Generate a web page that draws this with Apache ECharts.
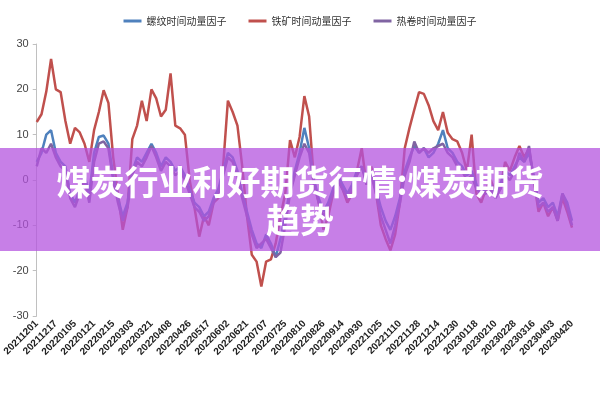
<!DOCTYPE html>
<html>
<head>
<meta charset="utf-8">
<script src="https://cdn.jsdelivr.net/npm/echarts@6/dist/echarts.min.js"></script>
<style>html,body{margin:0;padding:0;background:#fff}#c{width:600px;height:400px}</style>
</head>
<body>
<div id="c"></div>
<script>
// Tick labels on the x axis (every 4th category)
const tickLabels = ['20211201','20211217','20220105','20220121','20220215','20220303','20220321','20220408','20220426','20220517','20220602','20220621','20220707','20220725','20220810','20220826','20220914','20220930','20221025','20221110','20221128','20221214','20221230','20230118','20230210','20230228','20230316','20230403','20230420'];
const seriesNames = ['螺纹时间动量因子','铁矿时间动量因子','热卷时间动量因子'];
const rebar = [4,6,10,11,6,4,3,-3,-5,-2,1,-3,6,9.5,9.8,8,1,-4,-8,-5,2,5,4,6,8,6,3,5,4,2,3,1,-2,-5,-6,-8,-7,-4,-2,2,6,5,2,-3,-7,-11,-14,-15,-12,-14,-17,-13,-8,-2,2,6,11.5,7,0,-4,-7,-5,-2,1,-1,-3,-1,2,3,0,2,-2,-6,-9,-11,-8,-4,2,5,7.5,6,7,5,6,8,11,7,6,4,3,1,2,-1,-3,-2,-1,-3,-1,2,1,3,5,4,6,1,-5,-4,-6,-5,-8,-3,-5,-9];
const ironOre = [12.8,14.5,19.5,26.7,20,19.4,13,8,11.5,10.5,8,4,11,15,19.8,17,5,-3,-11,-6,9,12,17.5,13,20,18,14,15.5,23.5,12,11.4,10,0,-6,-12.5,-8,-10,-5,-4,3,17.5,15,12,3,-8,-16.5,-18,-23.5,-18,-17.5,-14,-8,-3,8.8,5,9.5,18.5,14,0,-5,-11,-8,-3,0,-2,-5,-3,2,7,-1,3,-3,-10,-13,-15.5,-12,-5,7,11.5,15.5,19.4,19,16.5,13,11,15,10.4,9,8.5,6,2,10,-3,-5,-2,0,-3,-2,4,2,5,7.5,5,7,0,-7,-5,-8,-6,-9,-4,-7,-10.5];
const hotCoil = [3,7,6,8,5,3,2,-4,-6,-3,0,-5,4,8,8.5,7,0,-5,-9,-6,1,4,3,5,7.5,5,2,4,3,1,2,0,-3,-6,-7,-9,-8,-5,-3,1,5,4,1,-4,-8,-12,-15,-14,-13,-15,-17,-16,-10,-3,1,5,8,6,-1,-5,-8,-6,-3,0,-2,-4,-2,1,3,-1,1,-3,-8,-11,-14,-10,-5,1,4,8.5,6,7,6,7,7.5,8,6,5,3,2,0,1,-2,-3,-3,-2,-4,-2,1,0,2,6,4,7.5,0,-6,-5,-7,-6,-9,-3,-6,-10];
const yTicks = {min:-30, max:30, interval:10};
const titleLines = ['煤炭行业利好期货行情:煤炭期货','趋势'];

const categories = [];
tickLabels.forEach((t, k) => {
  categories.push(t);
  if (k < tickLabels.length - 1) { for (let j = 1; j < 4; j++) categories.push(t + '_' + j); }
});

const chart = echarts.init(document.getElementById('c'), null, {renderer:'canvas'});
const colors = ['#4F81BD','#C0504D','#8064A2'];
const dataSets = [rebar, ironOre, hotCoil];
chart.setOption({
  animation:false,
  color: colors,
  legend: {
    top: 11, left: 'center', itemGap: 22, itemWidth: 18, itemHeight: 3, icon: 'rect',
    textStyle: {fontSize: 10, color: '#333', fontFamily: '"Noto Sans CJK SC", sans-serif'},
    data: seriesNames
  },
  grid: {left: 30, right: 28, top: 44, bottom: 84},
  xAxis: {
    type: 'category', boundaryGap: false, data: categories,
    axisLine: {show: false}, axisTick: {show: false},
    axisLabel: {interval: 3, rotate: 45, fontSize: 10, fontWeight: 'bold', color: '#222', margin: 6, fontFamily: '"Liberation Sans", Arial, sans-serif'}
  },
  yAxis: {
    type: 'value', min: yTicks.min, max: yTicks.max, interval: yTicks.interval,
    splitLine: {show: false},
    axisLine: {show: true, lineStyle: {color: '#c0c0c0'}},
    axisTick: {show: true, length: 4, lineStyle: {color: '#c0c0c0'}},
    axisLabel: {fontSize: 11, color: '#444', margin: 8}
  },
  series: seriesNames.map((n, i) => ({
    name: n, type: 'line', data: dataSets[i], symbol: 'none',
    lineStyle: {width: 2.5, color: colors[i]}, z: i === 1 ? 2 : 3
  })),
  graphic: [
    {type: 'rect', z: 100, shape: {x: 0, y: 148, width: 600, height: 103}, style: {fill: 'rgba(180,82,222,0.74)'}},
    {type: 'text', z: 101, x: 300, y: 182, style: {text: titleLines[0], fill: '#fff', font: 'bold 34px "Noto Sans CJK SC"', textAlign: 'center', textVerticalAlign: 'middle'}},
    {type: 'text', z: 101, x: 300, y: 220, style: {text: titleLines[1], fill: '#fff', font: 'bold 34px "Noto Sans CJK SC"', textAlign: 'center', textVerticalAlign: 'middle'}}
  ]
});
</script>
</body>
</html>
